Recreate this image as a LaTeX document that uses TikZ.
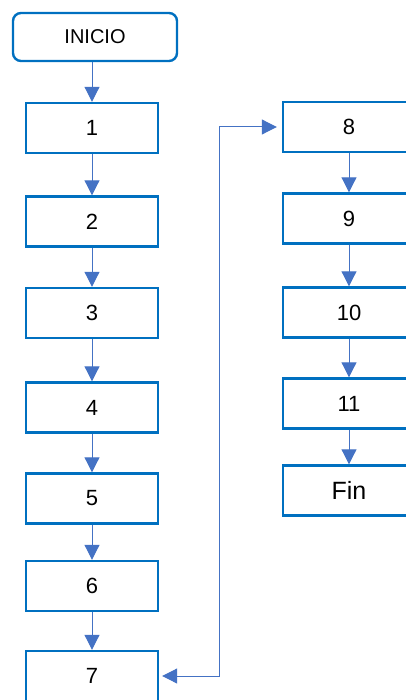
\documentclass[tikz,border=0pt]{standalone}
\usepackage{fontspec}
\setmainfont{Liberation Sans}
\usetikzlibrary{arrows.meta}
\definecolor{boxblue}{HTML}{0070C0}
\definecolor{arrowblue}{HTML}{4472C4}
\tikzset{
    stepbox/.style={draw=boxblue, line width=2.4pt, minimum width=132pt,
        minimum height=50pt, inner sep=0pt, font=\fontsize{22}{22}\selectfont},
    flow/.style={draw=arrowblue, line width=1pt,
        >={Triangle[width=15pt,length=15pt]}, ->},
}
\begin{document}
\begin{tikzpicture}[x=1pt, y=-1pt]
        \useasboundingbox (0,0) rectangle (406,700);
        \clip (0,0) rectangle (406,700);
        \node [stepbox, rounded corners=8pt, minimum width=164pt, minimum height=48pt,
            font=\fontsize{20}{20}\selectfont] (inicio) at (95,37) {INICIO};
        \foreach \n/\y in {1/128, 2/221.5, 3/313, 4/407.5, 5/498.5, 6/586, 7/676} %
            \node [stepbox] (b\n) at (92,\y) {\n};
        \foreach \n/\y in {8/127, 9/218.5, 10/312.5, 11/403.5} %
            \node [stepbox] (b\n) at (349,\y) {\n};
        \node [stepbox, font=\fontsize{25}{25}\selectfont] (fin) at (349,490.5) {Fin};
        \draw [flow] (b1.north |- inicio.south) -- (b1.north);
        \foreach \a/\b in {1/2, 2/3, 3/4, 4/5, 5/6, 6/7, 8/9, 9/10, 10/11} %
            \draw [flow] (b\a) -- (b\b);
        \draw [flow] (b11) -- (fin);
        \draw [flow, <->, shorten <=3pt, shorten >=5pt] (b7.east) -- ++(60,0) |- (b8.west);
    \end{tikzpicture}
\end{document}
